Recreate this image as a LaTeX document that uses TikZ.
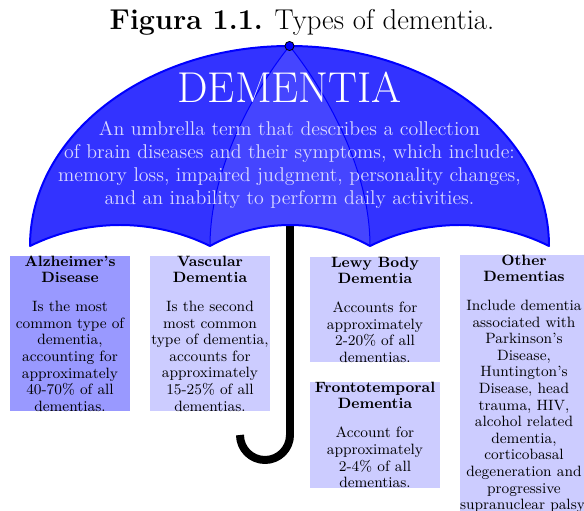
\documentclass[tikz,border=0pt]{standalone}
\usetikzlibrary{positioning}

% 伞面外轮廓（下沿三段弧 + 上半椭圆）
\newcommand{\canopypath}{(30,264) .. controls (87,292) and (153,292) .. (210,264)
    .. controls (260,292) and (320,292) .. (370,264)
    .. controls (426,292) and (493,292) .. (549,264)
    arc[start angle=0, end angle=180, x radius=259.5, y radius=200] -- cycle}

\begin{document}
\begin{tikzpicture}[
    x=0.6024pt, y=0.6024pt,
    line join=round,
    every node/.style={
        inner sep=0pt,   % 文字贴边
        outer sep=0pt
    },
    box/.style={fill=blue!20, align=center, font=\fontsize{9}{10}\selectfont},
    rib/.style={draw=blue, line width=0.6pt}
]
  \useasboundingbox (0,0) rectangle (584,510);

  % 伞柄
  \draw[line width=4.8pt] (290,290) -- (290,75) arc[start angle=0, end angle=-180, radius=25];

  % 伞面
  \fill[blue!80] \canopypath;
  \fill[blue!73] (289.5,464) .. controls (252,417) and (210,340) .. (210,264)
      .. controls (260,292) and (320,292) .. (370,264)
      .. controls (370,340) and (327,417) .. (289.5,464);
  % 伞骨
  \draw[rib] (289.5,464) .. controls (252,417) and (210,340) .. (210,264);
  \draw[rib] (289.5,464) .. controls (327,417) and (370,340) .. (370,264);
  \draw[blue, line width=1.2pt] \canopypath;
  \node[circle, draw, line width=0.5pt, fill=blue, minimum size=5.5pt] (knob) at (289.5,464) {};

  % 标题与说明
  \node[font=\LARGE, anchor=base] (caption) at (302,480) {\textbf{Figura 1.1.} Types of dementia.};
  \node[font=\fontsize{26}{30}\selectfont, text=white, anchor=base] (title) at (289.5,407) {DEMENTIA};
  \node[font=\large, text=blue!15, align=center, anchor=north] (desc) at (289.5,389)
      {An umbrella term that describes a collection\\
       of brain diseases and their symptoms, which include:\\
       memory loss, impaired judgment, personality changes,\\
       and an inability to perform daily activities.};

  % 各类痴呆
  \node[box, fill=blue!40, minimum width=72.3pt, anchor=north] (alz) at (70,254)
      {\textbf{Alzheimer's}\\[-0.5pt]\textbf{Disease}\\[7.7pt]
       Is the most\\common type of\\dementia,\\accounting for\\approximately\\40-70\% of all\\dementias.};
  \node[box, minimum width=72.3pt, anchor=north] (vasc) at (210,254)
      {\textbf{Vascular}\\[-0.5pt]\textbf{Dementia}\\[7.7pt]
       Is the second\\most common\\type of dementia,\\accounts for\\approximately\\15-25\% of all\\dementias.};
  \node[box, minimum width=78.3pt, anchor=north] (lewy) at (375,253)
      {\textbf{Lewy Body}\\[-0.5pt]\textbf{Dementia}\\[7.7pt]
       Accounts for\\approximately\\2-20\% of all\\dementias.};
  \node[box, minimum width=78.3pt, below=12pt of lewy] (fronto)
      {\textbf{Frontotemporal}\\[-0.5pt]\textbf{Dementia}\\[7.7pt]
       Account for\\approximately\\2-4\% of all\\dementias.};
  \node[box, minimum width=74.7pt, anchor=north] (other) at (524,255)
      {\textbf{Other}\\[-0.5pt]\textbf{Dementias}\\[7.7pt]
       Include dementia\\associated with\\Parkinson's\\Disease,\\Huntington's\\Disease, head\\trauma, HIV,\\alcohol related\\dementia,\\corticobasal\\degeneration and\\progressive\\supranuclear palsy.};
\end{tikzpicture}
\end{document}
